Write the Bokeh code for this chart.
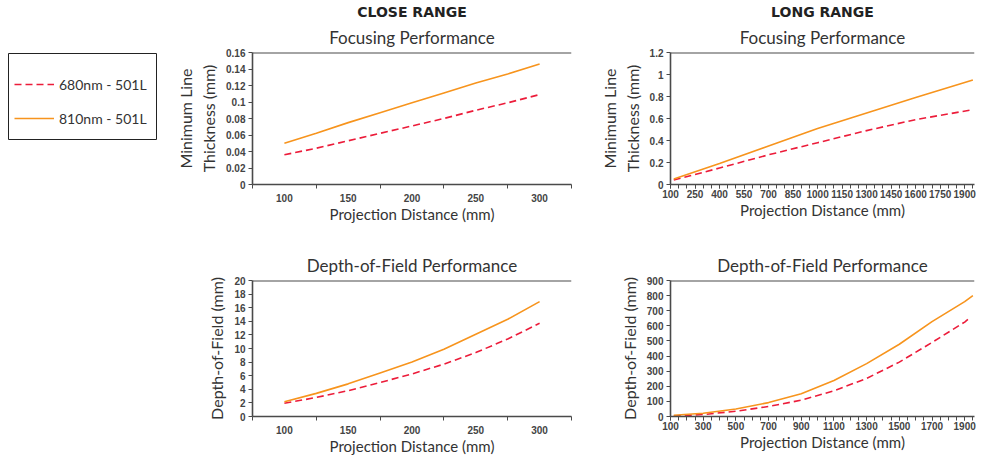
from bokeh.plotting import figure
from bokeh.models import (FixedTicker, Span, Title, Legend, LegendItem, Spacer,
                          NumeralTickFormatter)
from bokeh.layouts import row, column
from bokeh.embed import file_html
from bokeh.resources import INLINE

# ---------------- data ----------------
series_names = ["680nm - 501L", "810nm - 501L"]

close_x = [100, 125, 150, 175, 200, 225, 250, 275, 300]
close_focus_680 = [0.036, 0.044, 0.053, 0.062, 0.071, 0.080, 0.090, 0.099, 0.109]
close_focus_810 = [0.050, 0.062, 0.075, 0.087, 0.099, 0.111, 0.123, 0.134, 0.146]
close_dof_680 = [1.94, 2.8, 3.8, 5.0, 6.26, 7.7, 9.4, 11.4, 13.7]
close_dof_810 = [2.16, 3.4, 4.8, 6.4, 8.0, 9.9, 12.1, 14.3, 16.9]

long_focus_x = [120, 400, 700, 1000, 1300, 1600, 1950]
long_focus_680 = [0.04, 0.15, 0.27, 0.38, 0.49, 0.59, 0.68]
long_focus_810 = [0.05, 0.19, 0.35, 0.51, 0.65, 0.79, 0.95]

long_dof_x_680 = [120, 300, 500, 700, 900, 1100, 1300, 1500, 1700, 1900, 1925]
long_dof_680 = [3, 13, 35, 66, 108, 170, 252, 360, 490, 625, 648]
long_dof_x_810 = [120, 300, 500, 700, 900, 1100, 1300, 1500, 1700, 1900, 1950]
long_dof_810 = [8, 22, 50, 92, 150, 238, 350, 478, 628, 760, 800]

close_xticks = [100, 150, 200, 250, 300]
close_xminor = [75, 125, 175, 225, 275, 325]
long_focus_xticks = [100, 250, 400, 550, 700, 850, 1000, 1150, 1300, 1450, 1600, 1750, 1900]
long_dof_xticks = [100, 300, 500, 700, 900, 1100, 1300, 1500, 1700, 1900]
long_xminor = list(range(100, 1951, 50))

close_focus_yticks = [0, 0.02, 0.04, 0.06, 0.08, 0.1, 0.12, 0.14, 0.16]
long_focus_yticks = [0, 0.2, 0.4, 0.6, 0.8, 1, 1.2]
close_dof_yticks = [0, 2, 4, 6, 8, 10, 12, 14, 16, 18, 20]
long_dof_yticks = [0, 100, 200, 300, 400, 500, 600, 700, 800, 900]

# ---------------- style ----------------
FONT = "Lato"
TICK_FONT = "Liberation Sans"
ORANGE = "#F7941D"
RED = "#EC1C3A"
AXIS = "#4a4a4a"
TXT = "#333333"
DASH = "7 4"


def styled(width, height, xr, yr, mbl, mbr, mbt, mbb, xticks, xminor, yticks,
           ylabel, title, sup=None, label_ticks=False):
    p = figure(width=width, height=height, x_range=xr, y_range=yr,
               output_backend="svg", toolbar_location=None,
               title=sup if sup else title,
               min_border_left=mbl, min_border_right=mbr,
               min_border_top=mbt, min_border_bottom=mbb)
    p.grid.visible = False
    p.outline_line_color = None
    p.background_fill_color = "white"
    p.title.align = "center"
    if sup:
        p.title.text_font = "DejaVu Sans"
        p.title.text_font_style = "bold"
        p.title.text_font_size = "14px"
        p.title.text_color = "#222222"
        p.title.standoff = 0
        p.add_layout(Title(text=title, align="center", text_font=FONT,
                           text_font_style="normal", text_font_size="17px",
                           text_color=TXT, standoff=10), "above")
    else:
        p.title.text_font = FONT
        p.title.text_font_style = "normal"
        p.title.text_font_size = "17px"
        p.title.text_color = TXT
        p.title.standoff = 10
    for ax in (p.xaxis[0], p.yaxis[0]):
        ax.axis_line_color = AXIS
        ax.axis_line_width = 1.6
        ax.major_tick_line_color = AXIS
        ax.minor_tick_line_color = AXIS
        ax.major_label_text_font = TICK_FONT
        ax.major_label_text_font_style = "bold"
        ax.major_label_text_font_size = "10px"
        ax.major_label_text_color = "#444444"
        ax.axis_label_text_font = FONT
        ax.axis_label_text_font_style = "normal"
        ax.axis_label_text_color = TXT
        ax.formatter = NumeralTickFormatter(format="0.[00]")
    xa = p.xaxis[0]
    xa.ticker = FixedTicker(ticks=xticks, minor_ticks=xminor)
    xa.major_tick_in = 0
    xa.minor_tick_in = 0
    xa.minor_tick_out = 4
    xa.major_tick_out = 4 if label_ticks else 0
    xa.major_label_standoff = 1 if label_ticks else 5
    xa.axis_label = "Projection Distance (mm)"
    xa.axis_label_text_font_size = "15px"
    xa.axis_label_standoff = 0
    ya = p.yaxis[0]
    ya.ticker = FixedTicker(ticks=yticks, minor_ticks=[])
    ya.major_tick_in = 0
    ya.major_tick_out = 4
    ya.minor_tick_out = 0
    ya.major_label_standoff = 3
    ya.axis_label = ylabel
    ya.axis_label_text_font_size = "16px"
    ya.axis_label_standoff = 5
    p.add_layout(Span(location=yr[1], dimension="width", line_color=AXIS,
                      line_width=2))
    return p


def add_lines(p, x1, y1, x2, y2):
    r1 = p.line(x1, y1, line_color=RED, line_width=1.6, line_dash=DASH)
    r2 = p.line(x2, y2, line_color=ORANGE, line_width=1.6)
    return r1, r2


TOP_H, BOT_H = 228, 230
LW, RW = 417, 386

tl = styled(LW, TOP_H, (75, 325), (0, 0.16), 78, 19, 52, 44,
            close_xticks, close_xminor, close_focus_yticks,
            "Minimum Line\nThickness (mm)",
            "Focusing Performance", "CLOSE RANGE")
add_lines(tl, close_x, close_focus_680, close_x, close_focus_810)

bl = styled(LW, BOT_H, (75, 325), (0, 20), 78, 19, 52, 42,
            close_xticks, close_xminor, close_dof_yticks,
            "Depth-of-Field (mm)", "Depth-of-Field Performance")
add_lines(bl, close_x, close_dof_680, close_x, close_dof_810)

tr = styled(RW, TOP_H, (100, 1960), (0, 1.2), 80, 2, 52, 44,
            long_focus_xticks, long_xminor, long_focus_yticks,
            "Minimum Line\nThickness (mm)",
            "Focusing Performance", "LONG RANGE", label_ticks=True)
add_lines(tr, long_focus_x, long_focus_680, long_focus_x, long_focus_810)

br = styled(RW, BOT_H, (100, 1960), (0, 900), 80, 2, 52, 42,
            long_dof_xticks, long_xminor, long_dof_yticks,
            "Depth-of-Field (mm)", "Depth-of-Field Performance",
            label_ticks=True)
add_lines(br, long_dof_x_680, long_dof_680, long_dof_x_810, long_dof_810)

# ---------------- legend ----------------
nan = float("nan")
lg = figure(width=150, height=88, x_range=(0, 1), y_range=(0, 1),
            output_backend="svg", toolbar_location=None,
            x_axis_location=None, y_axis_location=None, min_border=1)
lg.grid.visible = False
lg.outline_line_color = "#222222"
lg.outline_line_width = 1
r1 = lg.line([nan, nan], [nan, nan], line_color=RED, line_width=1.6, line_dash=DASH)
r2 = lg.line([nan, nan], [nan, nan], line_color=ORANGE, line_width=1.6)
legend = Legend(items=[LegendItem(label=series_names[0], renderers=[r1]),
                       LegendItem(label=series_names[1], renderers=[r2])],
                location=(6, 11), padding=0, margin=0, spacing=14,
                label_height=20, glyph_height=20, glyph_width=40,
                label_standoff=5, border_line_color=None,
                background_fill_alpha=0, label_text_font=FONT,
                label_text_font_size="14px", label_text_color=TXT)
lg.add_layout(legend)

layout = row(Spacer(width=7), column(Spacer(height=52), lg), Spacer(width=16),
             column(tl, bl), column(tr, br))

open("out.html", "w").write(file_html(layout, INLINE))
